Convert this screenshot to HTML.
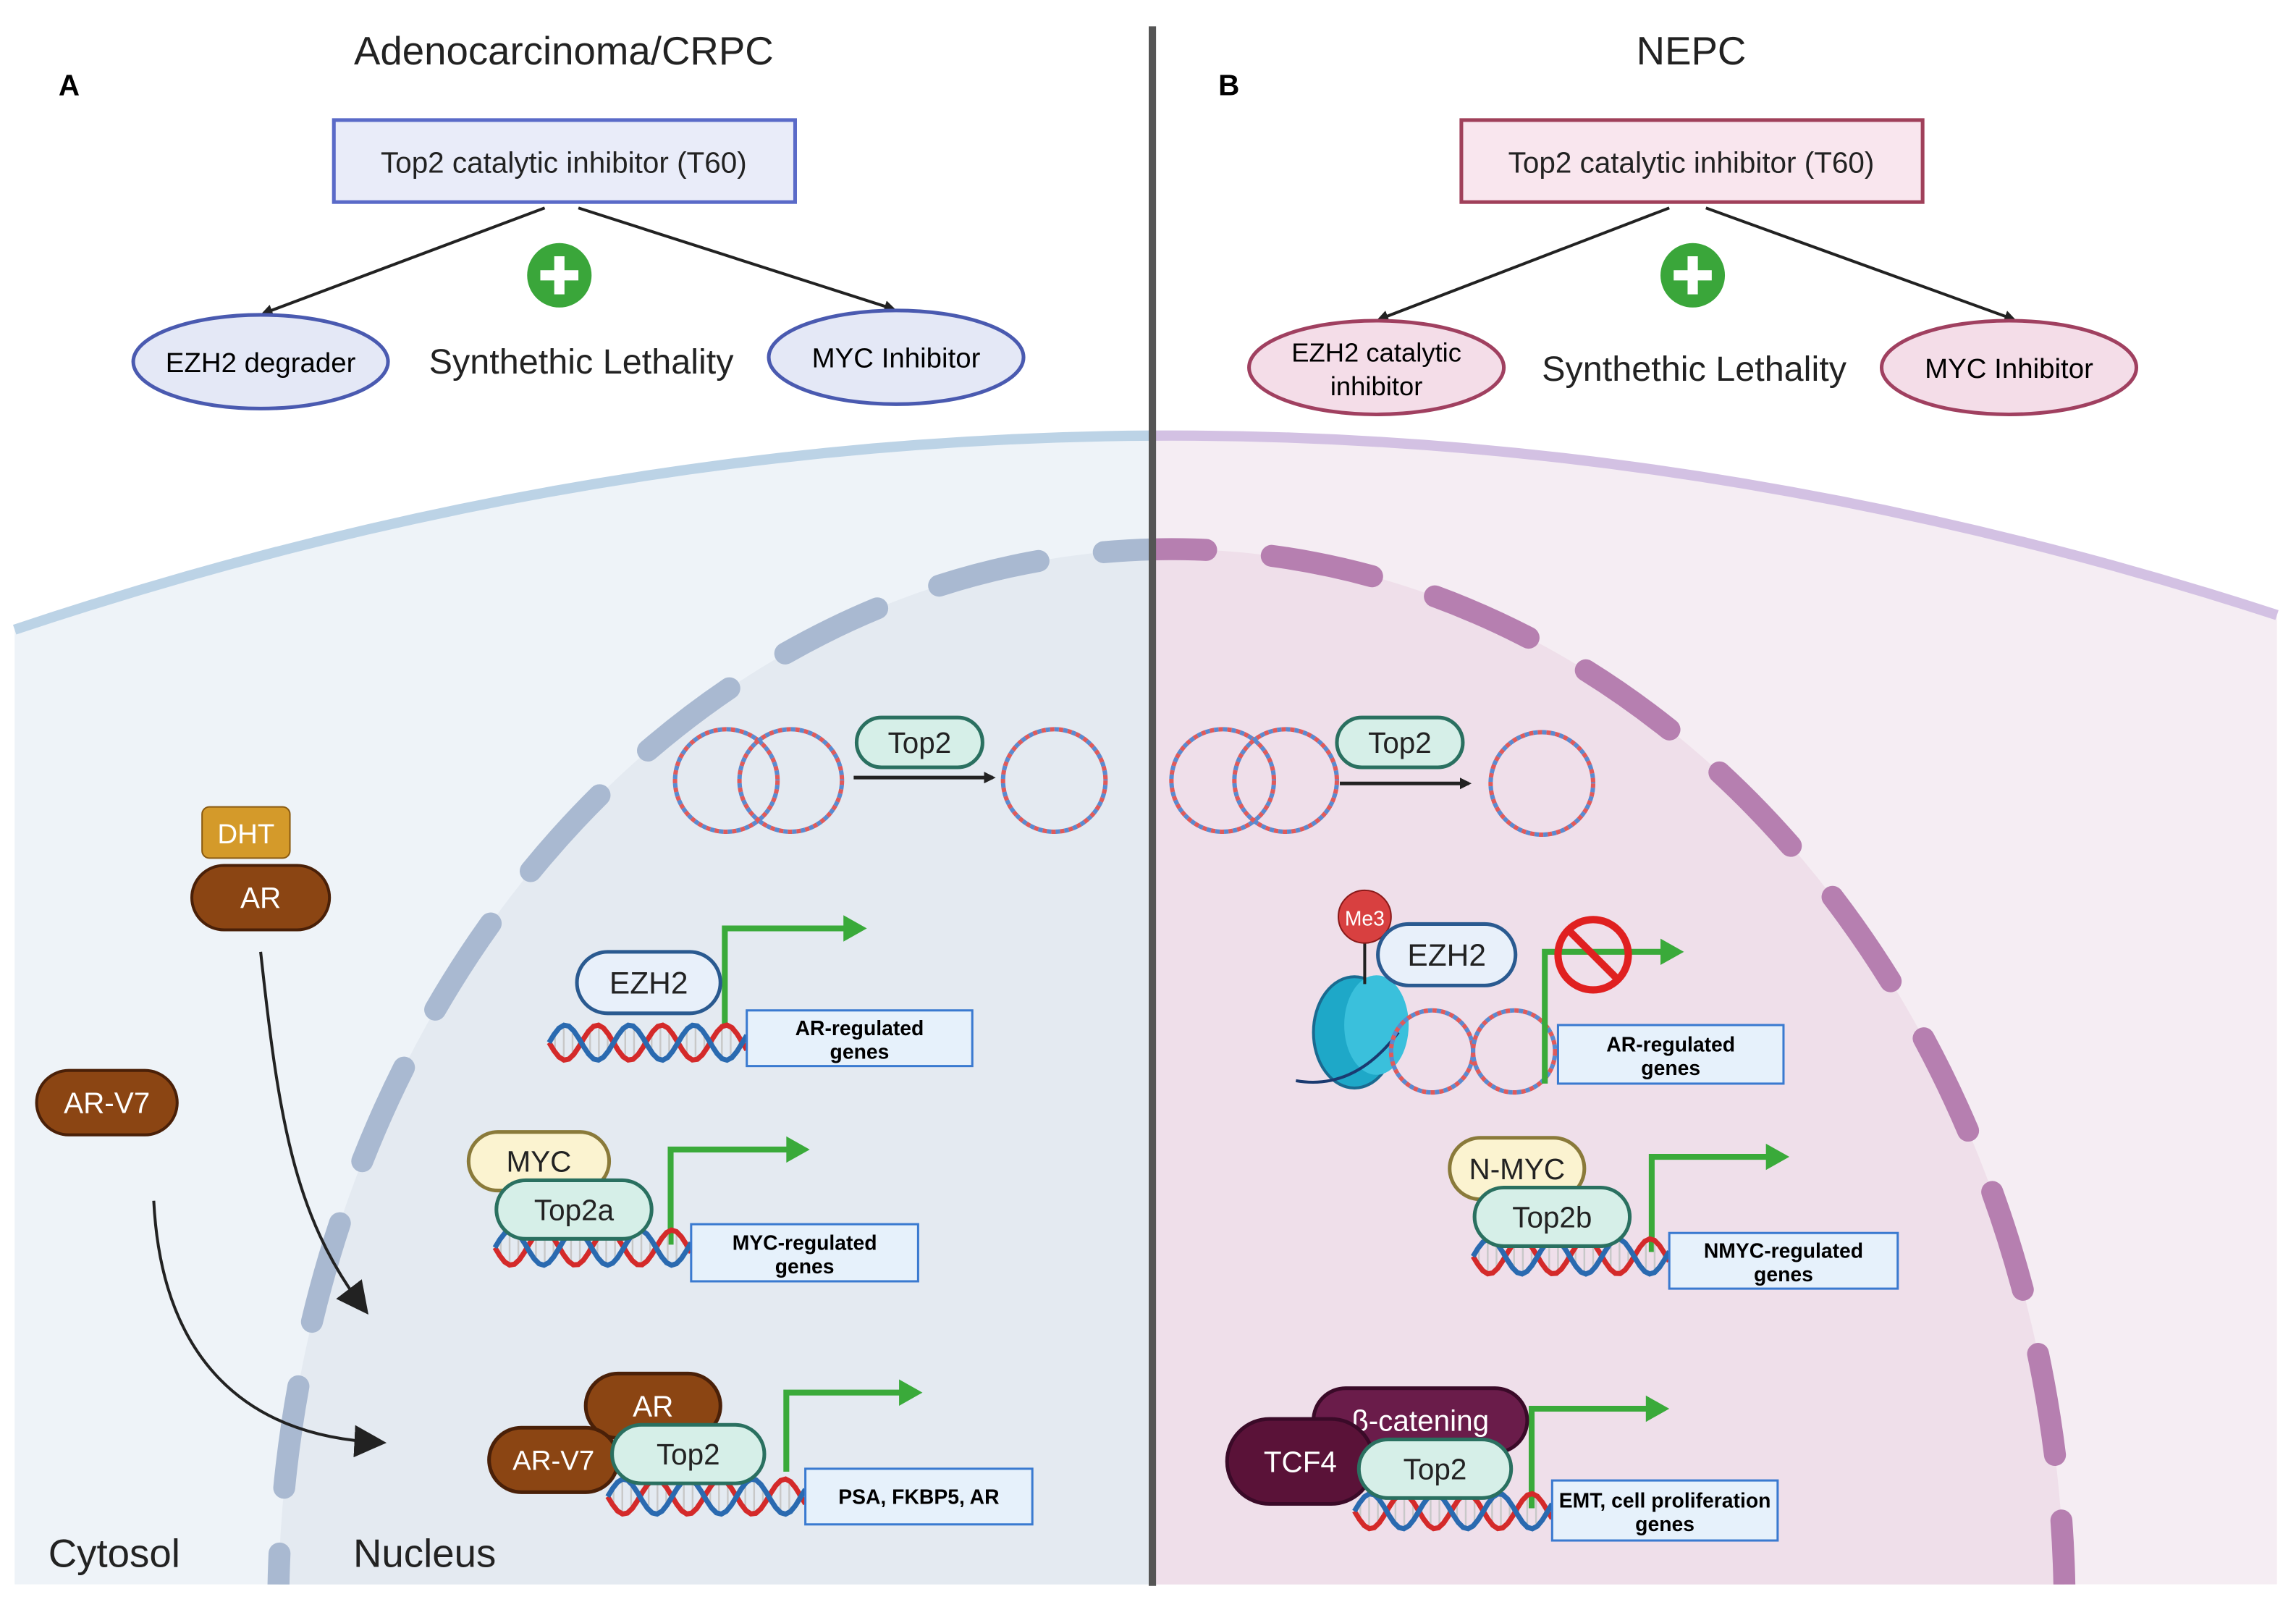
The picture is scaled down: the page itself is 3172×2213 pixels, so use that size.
<!DOCTYPE html>
<html><head><meta charset="utf-8"><style>
html,body{margin:0;padding:0;background:#fff;width:3172px;height:2213px;overflow:hidden}
svg{display:block}
text{font-family:"Liberation Sans",sans-serif}
</style></head><body>
<svg id="s" width="3172" height="2213" viewBox="0 0 1568 1094" preserveAspectRatio="none" xmlns="http://www.w3.org/2000/svg">
<defs>
<marker id="ah" markerWidth="8" markerHeight="8" refX="6" refY="4" orient="auto" markerUnits="userSpaceOnUse"><path d="M0,0 L8,4 L0,8 z" fill="#222"/></marker>
<marker id="ahb" markerWidth="22" markerHeight="22" refX="16" refY="11" orient="auto" markerUnits="userSpaceOnUse"><path d="M0,0 L22,11 L0,22 z" fill="#222"/></marker>
<clipPath id="cl"><rect x="0" y="0" width="787" height="1082"/></clipPath>
<clipPath id="cr"><rect x="787" y="0" width="781" height="1082"/></clipPath>
</defs>
<rect width="1568" height="1094" fill="#fff"/>
<g clip-path="url(#cl)">
<path d="M10,430 Q787,170 1555,420 L1555,1082 L10,1082 z" fill="#eef3f8"/>
<ellipse cx="800" cy="1100" rx="610" ry="725" fill="#e4eaf1"/>
<path d="M10,430 Q787,170 1555,420" fill="none" stroke="#bcd3e6" stroke-width="7"/>
<ellipse cx="800" cy="1100" rx="610" ry="725" fill="none" stroke="#a9b9d1" stroke-width="15" stroke-linecap="round" stroke-dasharray="70 45"/>
</g>
<g clip-path="url(#cr)">
<path d="M10,430 Q787,170 1555,420 L1555,1082 L10,1082 z" fill="#f5edf3"/>
<ellipse cx="800" cy="1100" rx="610" ry="725" fill="#efdfea"/>
<path d="M10,430 Q787,170 1555,420" fill="none" stroke="#d3c1e3" stroke-width="7"/>
<ellipse cx="800" cy="1100" rx="610" ry="725" fill="none" stroke="#b67fb0" stroke-width="15" stroke-linecap="round" stroke-dasharray="70 45"/>
</g>
<line x1="787" y1="18" x2="787" y2="1083" stroke="#555" stroke-width="5"/>

<text x="385" y="44" font-size="27" text-anchor="middle" fill="#222">Adenocarcinoma/CRPC</text>
<text x="1155" y="44" font-size="27" text-anchor="middle" fill="#222">NEPC</text>
<text x="40" y="65" font-size="20" font-weight="bold">A</text>
<text x="832" y="65" font-size="20" font-weight="bold">B</text>
<rect x="228" y="82" width="315" height="56" fill="#e9ecf9" stroke="#5a6ac8" stroke-width="2.5"/>
<text x="385" y="118" font-size="20" text-anchor="middle" fill="#222">Top2 catalytic inhibitor (T60)</text>
<rect x="998" y="82" width="315" height="56" fill="#f9e6ee" stroke="#a0405a" stroke-width="2.5"/>
<text x="1155" y="118" font-size="20" text-anchor="middle" fill="#222">Top2 catalytic inhibitor (T60)</text>
<line x1="372" y1="142" x2="180" y2="214" stroke="#222" stroke-width="2" marker-end="url(#ah)"/>
<line x1="395" y1="142" x2="610" y2="211" stroke="#222" stroke-width="2" marker-end="url(#ah)"/>
<line x1="1140" y1="142" x2="942" y2="218" stroke="#222" stroke-width="2" marker-end="url(#ah)"/>
<line x1="1165" y1="142" x2="1375" y2="218" stroke="#222" stroke-width="2" marker-end="url(#ah)"/>
<ellipse cx="178" cy="247" rx="87" ry="32" fill="#e4e8f6" stroke="#4a5ab0" stroke-width="2.5"/>
<text x="178" y="254" font-size="19" text-anchor="middle">EZH2 degrader</text>
<ellipse cx="612" cy="244" rx="87" ry="32" fill="#e4e8f6" stroke="#4a5ab0" stroke-width="2.5"/>
<text x="612" y="251" font-size="19" text-anchor="middle">MYC Inhibitor</text>
<ellipse cx="940" cy="251" rx="87" ry="32" fill="#f4dde8" stroke="#a04060" stroke-width="2.5"/>
<text x="940" y="247" font-size="18" text-anchor="middle">EZH2 catalytic</text>
<text x="940" y="270" font-size="18" text-anchor="middle">inhibitor</text>
<ellipse cx="1372" cy="251" rx="87" ry="32" fill="#f4dde8" stroke="#a04060" stroke-width="2.5"/>
<text x="1372" y="258" font-size="19" text-anchor="middle">MYC Inhibitor</text>
<g fill="#3aa63a"><circle cx="382" cy="188" r="22"/><circle cx="1156" cy="188" r="22"/></g>
<g stroke="#fff" stroke-width="7"><line x1="369" y1="188" x2="395" y2="188"/><line x1="382" y1="175" x2="382" y2="201"/><line x1="1143" y1="188" x2="1169" y2="188"/><line x1="1156" y1="175" x2="1156" y2="201"/></g>
<text x="397" y="255" font-size="24" text-anchor="middle" fill="#222">Synthethic Lethality</text>
<text x="1157" y="260" font-size="24" text-anchor="middle" fill="#222">Synthethic Lethality</text>

<g id="dyn"></g>

<rect x="138" y="551" width="60" height="35" rx="5" fill="#d49a2a" stroke="#8a5a10"/>
<text x="168" y="576" font-size="19" text-anchor="middle" fill="#fff">DHT</text>
<rect x="131" y="591" width="94" height="44" rx="22" fill="#8b4513" stroke="#4a2008" stroke-width="2"/>
<text x="178" y="620" font-size="20" text-anchor="middle" fill="#fff">AR</text>
<rect x="25" y="731" width="96" height="44" rx="22" fill="#8b4513" stroke="#4a2008" stroke-width="2"/>
<text x="73" y="760" font-size="20" text-anchor="middle" fill="#fff">AR-V7</text>
<path d="M178,650 C190,760 200,830 248,893" fill="none" stroke="#222" stroke-width="2" marker-end="url(#ahb)"/>
<path d="M105,820 C110,920 160,980 258,985" fill="none" stroke="#222" stroke-width="2" marker-end="url(#ahb)"/>
<text x="78" y="1070" font-size="27" text-anchor="middle" fill="#222">Cytosol</text>
<text x="290" y="1070" font-size="27" text-anchor="middle" fill="#222">Nucleus</text>
</svg>
<script>
const NS="http://www.w3.org/2000/svg",g=document.getElementById('dyn');
function el(t,a,txt){const e=document.createElementNS(NS,t);for(const k in a)e.setAttribute(k,a[k]);if(txt!==undefined)e.textContent=txt;g.appendChild(e);return e;}
function ring(cx,cy,r){el('circle',{cx,cy,r,fill:'none',stroke:'#e05a5a','stroke-width':3,'stroke-dasharray':'3 3'});el('circle',{cx,cy,r,fill:'none',stroke:'#5a8ad0','stroke-width':3,'stroke-dasharray':'3 3','stroke-dashoffset':3});}
function pill(cx,cy,w,h,fill,st,txt,tc,fs){el('rect',{x:cx-w/2,y:cy-h/2,width:w,height:h,rx:h/2,fill,stroke:st,'stroke-width':2.5});el('text',{x:cx,y:cy+fs*0.36,'font-size':fs,'text-anchor':'middle',fill:tc},txt);}
function dna(x1,x2,y){let a='',b='',n=40;for(let i=0;i<=n;i++){const x=x1+(x2-x1)*i/n,p=(x-x1)/22*Math.PI;a+=(i?'L':'M')+x+','+(y+12*Math.sin(p));b+=(i?'L':'M')+x+','+(y-12*Math.sin(p));}
for(let x=x1+4;x<x2;x+=6){const p=(x-x1)/22*Math.PI;el('line',{x1:x,y1:y+12*Math.sin(p),x2:x,y2:y-12*Math.sin(p),stroke:'#c8c8c8','stroke-width':1.2});}
el('path',{d:a,fill:'none',stroke:'#d42a2a','stroke-width':3.5});el('path',{d:b,fill:'none',stroke:'#2a6ab0','stroke-width':3.5});}
function garrow(x,y1,y2,x2){el('path',{d:`M${x},${y1} L${x},${y2} L${x2-14},${y2}`,fill:'none',stroke:'#3aaa3a','stroke-width':4});el('path',{d:`M${x2-16},${y2-9} L${x2},${y2} L${x2-16},${y2+9}z`,fill:'#3aaa3a'});}
function box(x1,y1,x2,y2,l1,l2){el('rect',{x:x1,y:y1,width:x2-x1,height:y2-y1,fill:'#e6f1fb',stroke:'#3a7ad0','stroke-width':1.5});const cx=(x1+x2)/2;if(l2){el('text',{x:cx,y:(y1+y2)/2-2,'font-size':14,'font-weight':'bold','text-anchor':'middle'},l1);el('text',{x:cx,y:(y1+y2)/2+14,'font-size':14,'font-weight':'bold','text-anchor':'middle'},l2);}else el('text',{x:cx,y:(y1+y2)/2+5,'font-size':14,'font-weight':'bold','text-anchor':'middle'},l1);}
const TF='#d6efe8',TS='#2a7060';
ring(496,533,35);ring(540,533,35);el('line',{x1:583,y1:531,x2:678,y2:531,stroke:'#222','stroke-width':2.5,'marker-end':'url(#ah)'});pill(628,507,86,34,TF,TS,'Top2','#222',20);ring(720,533,35);
garrow(495,700,634,592);dna(375,510,712);pill(443,671,98,42,'#e8f0fa','#2a5a90','EZH2','#222',21);box(510,690,664,728,'AR-regulated','genes');
garrow(458,850,785,553);dna(338,472,852);pill(368,793,96,40,'#fbf3d0','#8a7a3a','MYC','#222',20);pill(392,826,106,40,TF,TS,'Top2a','#222',20);box(472,836,627,875,'MYC-regulated','genes');
garrow(537,1005,951,630);dna(415,550,1022);pill(446,960,92,44,'#8b4513','#4a2008','AR','#fff',20);pill(378,997,88,44,'#8b4513','#4a2008','AR-V7','#fff',19);pill(470,993,104,40,TF,TS,'Top2','#222',20);box(550,1003,705,1041,'PSA, FKBP5, AR');
ring(835,533,35);ring(878,533,35);el('line',{x1:915,y1:535,x2:1003,y2:535,stroke:'#222','stroke-width':2.5,'marker-end':'url(#ah)'});pill(956,507,86,34,TF,TS,'Top2','#222',20);ring(1053,535,35);
el('ellipse',{cx:925,cy:705,rx:28,ry:38,fill:'#1ea8c8',stroke:'#1a6a90','stroke-width':2});el('ellipse',{cx:940,cy:700,rx:22,ry:34,fill:'#3ac0dc'});
el('path',{d:'M885,738 Q925,745 955,705',fill:'none',stroke:'#1a3a70','stroke-width':2});
el('line',{x1:932,y1:644,x2:932,y2:672,stroke:'#222','stroke-width':2});el('circle',{cx:932,cy:626,r:18,fill:'#d84040',stroke:'#8a1a1a'});el('text',{x:932,y:632,'font-size':14,'text-anchor':'middle',fill:'#fff'},'Me3');
ring(978,718,28);ring(1034,718,28);
garrow(1055,740,650,1150);pill(988,652,94,42,'#e8f0fa','#2a5a90','EZH2','#222',21);
el('circle',{cx:1088,cy:652,r:24,fill:'none',stroke:'#e02020','stroke-width':5});el('line',{x1:1071,y1:635,x2:1105,y2:669,stroke:'#e02020','stroke-width':5});
box(1064,700,1218,740,'AR-regulated','genes');
garrow(1128,855,790,1222);dna(1006,1140,858);pill(1036,798,92,42,'#fbf3d0','#8a7a3a','N-MYC','#222',20);pill(1060,831,106,40,TF,TS,'Top2b','#222',20);box(1140,842,1296,880,'NMYC-regulated','genes');
garrow(1046,1030,962,1140);dna(925,1060,1032);pill(970,970,146,44,'#6a1c4a','#3a0a28','β-catening','#fff',20);pill(888,998,100,58,'#5a1238','#3a0a28','TCF4','#fff',20);
pill(980,1003,104,40,TF,TS,'Top2','#222',20);box(1060,1011,1214,1052,'EMT, cell proliferation','genes');
</script>
</body></html>
